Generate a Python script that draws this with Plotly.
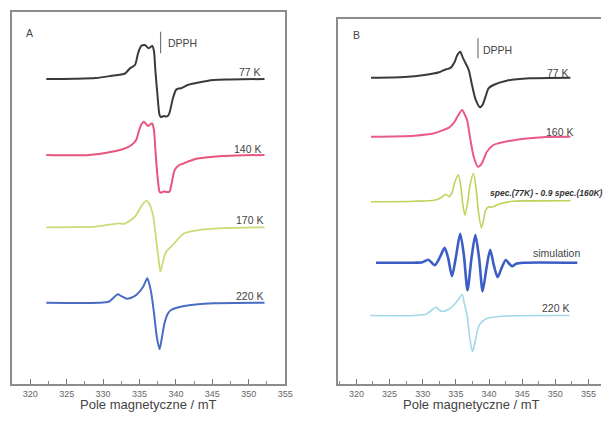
import plotly.graph_objects as go

# ---------------- data (field in mT, intensity in arbitrary units, baseline = 0) ----------------
# Panel A
a77_field = [322.2, 326.0, 329.0, 331.0, 333.0, 333.69, 334.37, 334.81, 335.22, 335.72, 336.26, 336.75,
             336.98, 337.16, 337.45, 337.75, 337.93, 338.33, 338.6, 338.88, 339.11, 339.56, 340.0, 340.37,
             340.68, 341.59, 342.94, 345.2, 347.4, 352.16]
a77_int = [0, 0.3, 1, 3, 5.5, 10.7, 14, 26, 33, 34, 30.7, 33,
           28, 10, -15, -36, -38, -37, -37.5, -37, -34, -20, -11, -9.5,
           -9.3, -6, -3.7, -1, -0.5, 0]

a140_field = [322.2, 328.04, 331.2, 332.78, 333.9, 334.54, 334.95, 335.29, 335.59, 336.17, 336.71, 336.98,
              337.18, 337.45, 337.75, 337.93, 338.33, 338.74, 339.11, 339.42, 339.83, 340.46, 341.05, 341.59,
              342.94, 345.2, 348.37, 352.16]
a140_int = [0, 0, 3.3, 6, 10, 15, 25, 31, 33.3, 29, 31.7, 25,
            5, -20, -36.7, -37.7, -36.5, -37, -36.7, -28, -15, -10, -8.5, -6.7,
            -3.5, -1.7, -0.5, 0]

a170_field = [322.2, 326.0, 328.95, 332.1, 332.92, 334.37, 335.26, 335.94, 336.3, 336.85, 337.29, 337.59,
              337.86, 338.2, 338.65, 339.56, 340.23, 341.14, 343.85, 347.0, 352.16]
a170_int = [0, 0.2, 0.6, 4, 3.5, 10.6, 21.3, 26.6, 24, 12.3, -12.7, -30,
            -44.4, -35, -24.4, -17.7, -12, -6, -2, -0.7, 0]

a220_field = [322.2, 329.39, 330.75, 331.29, 332.01, 332.51, 333.23, 333.87, 334.59, 335.5, 336.07, 336.37,
              336.62, 336.98, 337.39, 337.75, 338.0, 338.43, 338.88, 339.33, 341.14, 345.2, 352.16]
a220_int = [0, 0, 1, 4, 8.5, 6.5, 4, 5, 8, 16, 24.4, 18,
            9.4, -10, -35, -46.6, -38, -20.6, -11, -7.3, -3.3, -0.6, 0]

# Panel B
b77_field = [322.21, 327.27, 330.25, 332.48, 333.52, 334.12, 334.83, 335.16, 335.65, 336.05, 336.42, 336.94,
             337.43, 337.98, 338.62, 339.03, 339.47, 339.92, 340.66, 342.64, 346.12, 352.27]
b77_int = [0, 0.7, 2.7, 5.5, 8.5, 9.5, 16, 22, 26, 20, 15, 7.7,
           -7.3, -22, -29.6, -27, -19, -10.6, -7.3, -3, -0.6, 0]

b160_field = [322.21, 328.76, 331.73, 333.22, 333.97, 334.71, 335.31, 335.95, 336.35, 336.69, 337.2, 337.69,
              338.33, 338.92, 339.67, 340.66, 341.41, 344.64, 348.59, 352.27]
b160_int = [0, 1, 3.4, 7, 9, 14, 21, 26.7, 22, 16.7, -3.3, -20,
            -30, -26.6, -15, -8.3, -6.6, -2.6, -0.3, 0]

bdiff_field = [322.21, 328.76, 331.73, 332.77, 333.48, 333.97, 334.41, 334.86, 335.35, 335.75, 336.05, 336.38,
               336.72, 337.09, 337.64, 338.06, 338.43, 338.85, 339.17, 339.47, 339.92, 340.37, 341.66, 343.64,
               346.62, 352.27]
bdiff_int = [0, 0.5, 1.5, 4, 7.5, 5, 9, 20, 27, 15, -3, -13.5,
             -3, 15, 28.4, 12, -12, -26.2, -18, -9, -5, -5.5, -2, 0.5,
             0.8, 1]

bsim_field = [322.95, 328.76, 329.95, 330.84, 331.81, 332.63, 333.3, 333.82, 334.41, 335.01, 335.65, 336.2,
              336.75, 337.34, 337.94, 338.51, 339.03, 339.62, 340.17, 340.74, 341.29, 341.85, 342.52, 343.04,
              343.49, 344.08, 345.13, 353.31]
bsim_int = [0, 0, 0.5, 3, -2.5, 6, 15, 5, -13.5, 6, 29, 8,
            -27.5, 4, 27.7, 4, -28.5, -5, 13, -3, -14.5, -6, 2.7, -1,
            -3.5, -1, 0, 0]

b220_field = [322.06, 328.76, 330.54, 331.29, 331.99, 332.48, 332.97, 333.97, 334.71, 335.38, 335.95, 336.27,
              336.69, 337.09, 337.49, 337.94, 338.28, 338.68, 339.67, 342.64, 352.12]
b220_int = [0, 0, 1.5, 5, 8.5, 5.5, 4, 6.5, 10.5, 16, 21, 12,
            0, -22, -36, -25, -14, -8, -3, -0.5, 0]

labels_a = ["77 K", "140 K", "170 K", "220 K"]
labels_b = ["77 K", "160 K", "spec.(77K) - 0.9 spec.(160K)", "simulation", "220 K"]
tick_vals = [320, 325, 330, 335, 340, 345, 350, 355]
x_title = "Pole magnetyczne / mT"
dpph_a = 337.89
dpph_b = 338.33

# ---------------- layout constants ----------------
W, H = 609, 423
offs_a = [305, 229, 156.7, 81.3]        # vertical offsets of curves in panel A
offs_b = [306.3, 247.3, 182.3, 121.3, 68.5]
cols_a = ["#3a3a3a", "#e8557f", "#c9dc78", "#4a6cc2"]
cols_b = ["#3a3a3a", "#ea5a86", "#bcd45a", "#3d5dc6", "#a3d8e8"]
widths_a = [2.0, 2.0, 1.8, 2.0]
widths_b = [2.0, 2.0, 1.6, 2.6, 1.6]

fig = go.Figure()

sets_a = [(a77_field, a77_int), (a140_field, a140_int), (a170_field, a170_int), (a220_field, a220_int)]
for (f, v), o, c, w in zip(sets_a, offs_a, cols_a, widths_a):
    fig.add_trace(go.Scatter(x=f, y=[o + t for t in v], mode="lines",
                             line=dict(color=c, width=w, shape="spline", smoothing=0.7),
                             xaxis="x", yaxis="y", showlegend=False, hoverinfo="skip"))

sets_b = [(b77_field, b77_int), (b160_field, b160_int), (bdiff_field, bdiff_int),
          (bsim_field, bsim_int), (b220_field, b220_int)]
for (f, v), o, c, w in zip(sets_b, offs_b, cols_b, widths_b):
    fig.add_trace(go.Scatter(x=f, y=[o + t for t in v], mode="lines",
                             line=dict(color=c, width=w, shape="spline", smoothing=0.7),
                             xaxis="x2", yaxis="y2", showlegend=False, hoverinfo="skip"))

axcol = "#8c8c8c"
xcommon = dict(showline=True, linecolor=axcol, linewidth=1.5, mirror=True, ticks="inside",
               ticklen=5, tickwidth=1, tickcolor="#777", tickvals=tick_vals, showgrid=False,
               zeroline=False, tickfont=dict(family="Liberation Sans, Arial", size=9, color="#666"),
               minor=dict(dtick=2.5, tick0=320, ticks="inside", ticklen=3, tickcolor="#888",
                          showgrid=False))
fig.update_layout(
    width=W, height=H, margin=dict(l=0, r=0, t=0, b=0),
    paper_bgcolor="white", plot_bgcolor="white",
    xaxis=dict(domain=[12 / W, 289 / W], range=[317.47, 355], anchor="y", **xcommon),
    yaxis=dict(domain=[1 - 384 / H, 1 - 12 / H], range=[0, 372], showline=True, linecolor=axcol,
               linewidth=1.5, mirror=True, showticklabels=False, ticks="", showgrid=False,
               zeroline=False, anchor="x"),
    xaxis2=dict(domain=[343 / W, 1.0], range=[317.3, 356.88], anchor="y2", **xcommon),
    yaxis2=dict(domain=[1 - 384 / H, 1 - 19 / H], range=[0, 365], showline=True, linecolor=axcol,
                linewidth=1.5, mirror=False, showticklabels=False, ticks="", showgrid=False,
                zeroline=False, anchor="x2"),
)

lab_font = dict(family="Liberation Sans, Arial", size=10.5, color="#444")
ann = []
# panel letters
ann.append(dict(x=319.91, y=351, xref="x", yref="y", text="A", showarrow=False, font=lab_font))
ann.append(dict(x=320.08, y=349, xref="x2", yref="y2", text="B", showarrow=False, font=lab_font))
# curve labels A
lab_pos_a = [(352.0, 312), (352.0, 234.7), (352.2, 164), (352.2, 88.3)]
for t, (x, y) in zip(labels_a, lab_pos_a):
    ann.append(dict(x=x, y=y, xref="x", yref="y", text=t, showarrow=False, xanchor="right",
                    yanchor="middle", font=lab_font))
lab_pos_b = [(352.42, 310.7), (352.96, 252.3), (339.77, 191.3), (354.0, 130.7), (352.32, 75.7)]
for i, (t, (x, y)) in enumerate(zip(labels_b, lab_pos_b)):
    if i == 2:
        ann.append(dict(x=x, y=y, xref="x2", yref="y2", text="<b><i>" + t + "</i></b>", showarrow=False,
                        xanchor="left", yanchor="middle",
                        font=dict(family="Liberation Sans, Arial", size=8.5, color="#333")))
    else:
        ann.append(dict(x=x, y=y, xref="x2", yref="y2", text=t, showarrow=False, xanchor="right",
                        yanchor="middle", font=lab_font))
# DPPH labels
ann.append(dict(x=338.65, y=340.7, xref="x", yref="y", text="DPPH", showarrow=False, xanchor="left",
                yanchor="middle", font=lab_font))
ann.append(dict(x=338.77, y=334, xref="x2", yref="y2", text="DPPH", showarrow=False, xanchor="left",
                yanchor="middle", font=lab_font))
# axis titles
tfont = dict(family="Liberation Sans, Arial", size=13, color="#444")
ann.append(dict(x=150 / W, y=1 - 404 / H, xref="paper", yref="paper", text=x_title, showarrow=False,
                xanchor="center", yanchor="middle", font=tfont))
ann.append(dict(x=478 / W, y=1 - 404 / H, xref="paper", yref="paper", text=x_title, showarrow=False,
                xanchor="center", yanchor="middle", font=tfont))
fig.update_layout(annotations=ann)

fig.add_shape(type="line", xref="x", yref="y", x0=dpph_a, x1=dpph_a, y0=330.7, y1=352.3,
              line=dict(color="#777", width=1.2))
fig.add_shape(type="line", xref="x2", yref="y2", x0=dpph_b, x1=dpph_b, y0=325.7, y1=345.7,
              line=dict(color="#777", width=1.2))

fig.write_html("out.html")
